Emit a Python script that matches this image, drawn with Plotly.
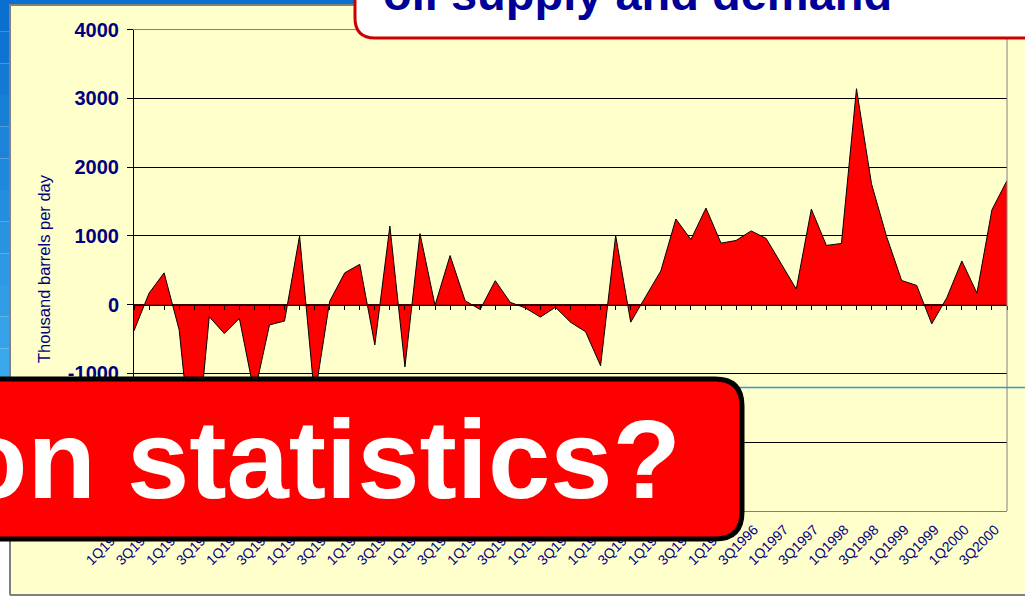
import plotly.graph_objects as go

# ---------------- data ----------------
quarters = [f"{q}Q{y}" for y in range(1986, 2001) for q in (1, 2, 3, 4)][:59]  # 1Q1986 .. 3Q2000
balance = [
    -380, 167, 462, -367, -2480, -176, -420, -200, -1300, -295,
    -238, 1000, -1350, 48, 462, 586, -586, 1143, -905, 1033,
    -10, 714, 57, -71, 348, 33, -48, -181, -38, -255,
    -394, -889, 1005, -255, 120, 490, 1245, 947, 1404, 894,
    933, 1072, 962, 590, 226, 1389, 861, 889, 3139, 1755,
    990, 351, 279, -279, 100, 635, 168, 1380, 1803,
]
y_ticks = [-3000, -2000, -1000, 0, 1000, 2000, 3000, 4000]
y_ticktext = [str(v) for v in y_ticks]
y_title = "Thousand barrels per day"
title_text = "oil supply and demand"
box_text = "on statistics?"

# ---------------- geometry helpers ----------------
W, H = 1025, 597
def px(x):
    return x / W
def py(y):
    return 1 - y / H

idx = list(range(len(quarters)))
label_idx = idx[::2]
label_txt = [quarters[i] for i in label_idx]

x_dom = [px(134), px(1007)]
y_dom = [py(511), py(29.5)]
y_rng = [y_ticks[0], y_ticks[-1]]
zero_pos = y_dom[0] + (0 - y_rng[0]) / (y_rng[1] - y_rng[0]) * (y_dom[1] - y_dom[0])

NAVY = "#000080"
FONT = "Liberation Sans, Arial, sans-serif"

fig = go.Figure()
fig.add_trace(go.Scatter(
    x=idx, y=balance, mode="lines",
    line=dict(color="black", width=1),
    fill="tozeroy", fillcolor="#FF0000",
    showlegend=False, hoverinfo="skip",
))
# invisible trace that carries the zero-line category axis (tick marks on the 0 line)
fig.add_trace(go.Scatter(
    x=idx, y=[None] * len(idx), xaxis="x2", yaxis="y",
    mode="lines", showlegend=False, hoverinfo="skip",
))

fig.update_layout(
    width=W, height=H,
    margin=dict(l=0, r=0, t=0, b=0, autoexpand=False),
    paper_bgcolor="#FFFFCC",
    plot_bgcolor="#FFFFCC",
    font=dict(family=FONT, color=NAVY),
    xaxis=dict(
        domain=x_dom, range=[idx[0], idx[-1]], automargin=False,
        tickmode="array", tickvals=label_idx, ticktext=label_txt,
        tickangle=-45, tickfont=dict(size=14, color=NAVY, family=FONT),
        ticklabelshift=-12, ticklabelstandoff=4,
        ticks="", showgrid=False, zeroline=False,
        showline=True, linecolor="#808080", linewidth=1, mirror=True,
    ),
    xaxis2=dict(
        overlaying="x", anchor="free", position=zero_pos, automargin=False,
        range=[idx[0], idx[-1]], tickmode="array", tickvals=idx,
        ticks="outside", ticklen=4, tickcolor="black", tickwidth=1,
        showticklabels=False, showgrid=False, zeroline=False,
        showline=True, linecolor="black", linewidth=1,
    ),
    yaxis=dict(
        domain=y_dom, range=y_rng, automargin=False,
        tickmode="array", tickvals=y_ticks, ticktext=y_ticktext,
        tickfont=dict(size=20, color=NAVY, family=FONT, weight="bold"),
        ticklabelstandoff=4,
        ticks="outside", ticklen=6, tickcolor="black", tickwidth=1,
        showgrid=True, gridcolor="black", gridwidth=1,
        zeroline=False, showline=True, linecolor="black", linewidth=1,
    ),
)

shapes = []
# slide decoration: left blue strip with a simple vertical gradient, top blue strip
shapes.append(dict(type="rect", xref="paper", yref="paper", x0=px(0), x1=px(10), y0=py(597), y1=py(0),
                   fillcolor="white", line=dict(width=0), layer="above"))
n_steps = 12
c0, c1 = (11, 111, 207), (58, 168, 236)
for k in range(n_steps):
    t = k / (n_steps - 1)
    col = "rgb(%d,%d,%d)" % tuple(int(c0[j] + (c1[j] - c0[j]) * t) for j in range(3))
    shapes.append(dict(type="rect", xref="paper", yref="paper",
                       x0=px(0), x1=px(9.5), y0=py(380 * (k + 1) / n_steps), y1=py(380 * k / n_steps),
                       fillcolor=col, line=dict(width=0), layer="above"))
shapes.append(dict(type="rect", xref="paper", yref="paper", x0=px(0), x1=px(1025), y0=py(4.5), y1=py(0),
                   fillcolor="rgb(11,111,207)", line=dict(width=0), layer="above"))
shapes.append(dict(type="rect", xref="paper", yref="paper", x0=px(0), x1=px(1025), y0=py(597), y1=py(596),
                   fillcolor="white", line=dict(width=0), layer="above"))
# chart object frame (grey)
for (x0, y0, x1, y1) in [(10, 5, 10, 595), (10, 5, 1025, 5), (10, 595, 1025, 595)]:
    shapes.append(dict(type="line", xref="paper", yref="paper", x0=px(x0), y0=py(y0), x1=px(x1), y1=py(y1),
                       line=dict(color="#808080", width=2), layer="above"))
# plot-area right border
shapes.append(dict(type="line", xref="x domain", yref="y domain", x0=1, x1=1, y0=0, y1=1,
                   line=dict(color="#808080", width=1), layer="above"))
# thin blue slide line
shapes.append(dict(type="line", xref="paper", yref="paper", x0=px(700), x1=px(1025), y0=py(387.5), y1=py(387.5),
                   line=dict(color="#2E9BD6", width=1.3), layer="above"))

# title callout (white, red border, rounded bottom-left corner)
r = 20
tl, tb, tr, tt = 355, 38, 1040, -10
shapes.append(dict(
    type="path", xref="paper", yref="paper", layer="above",
    path=(f"M {px(tr)},{py(tt)} L {px(tl)},{py(tt)} L {px(tl)},{py(tb - r)} "
          f"Q {px(tl)},{py(tb)} {px(tl + r)},{py(tb)} L {px(tr)},{py(tb)} Z"),
    fillcolor="white", line=dict(color="#CC0000", width=3),
))
# red callout box
r2 = 27
bl, bt, br, bb = -30, 379, 742, 539
shapes.append(dict(
    type="path", xref="paper", yref="paper", layer="above",
    path=(f"M {px(bl)},{py(bt)} L {px(br - r2)},{py(bt)} Q {px(br)},{py(bt)} {px(br)},{py(bt + r2)} "
          f"L {px(br)},{py(bb - r2)} Q {px(br)},{py(bb)} {px(br - r2)},{py(bb)} L {px(bl)},{py(bb)} Z"),
    fillcolor="#FF0000", line=dict(color="black", width=5),
))
fig.update_layout(shapes=shapes)

annotations = [
    dict(text=y_title, xref="paper", yref="paper", x=px(44), y=py(269), showarrow=False,
         textangle=-90, font=dict(size=16.5, color=NAVY, family=FONT), xanchor="center", yanchor="middle"),
    dict(text=title_text, xref="paper", yref="paper", x=px(381), y=py(-6), showarrow=False,
         font=dict(size=47, color="#000099", family=FONT, weight="bold"), xanchor="left", yanchor="middle"),
    dict(text=box_text, xref="paper", yref="paper", x=px(683), y=py(459), showarrow=False,
         font=dict(size=112, color="white", family=FONT, weight="bold"), xanchor="right", yanchor="middle"),
]
fig.update_layout(annotations=annotations)

fig.write_html(
    "out.html",
    config={"displayModeBar": False, "staticPlot": True},
    post_script="document.body.style.margin='0';document.body.style.overflow='hidden';",
)
